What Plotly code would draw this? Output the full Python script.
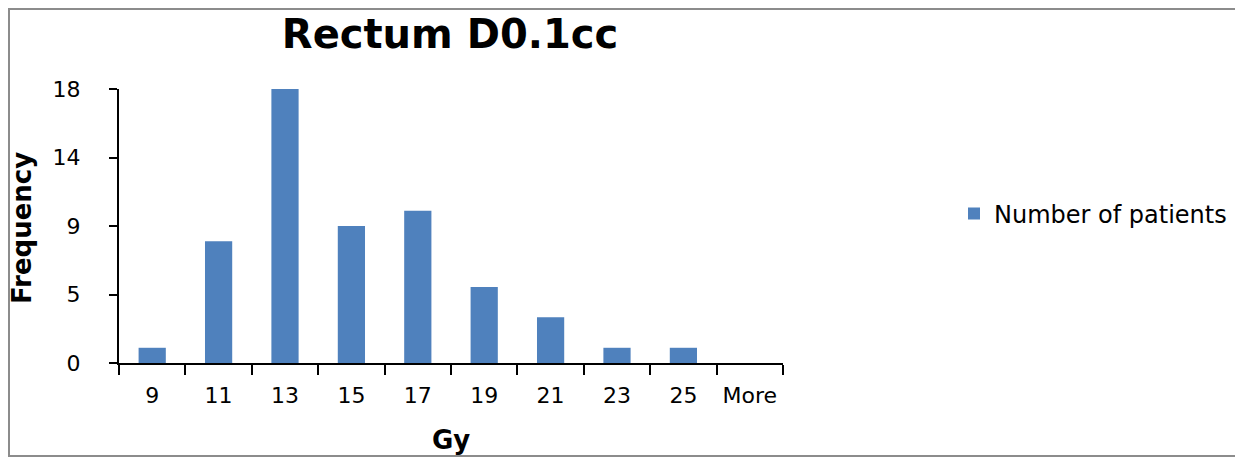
import plotly.graph_objects as go

categories = ["9", "11", "13", "15", "17", "19", "21", "23", "25", "More"]
patients = [1, 8, 18, 9, 10, 5, 3, 1, 1, 0]
ytick_vals = [0, 4.5, 9, 13.5, 18]
ytick_text = ["0", "5", "9", "14", "18"]

# the page body has an 8px margin; figure coordinates = page coordinates - 8
O = 8
W, H = 1243 - O, 457 - O
L, T = 119 - O, 89 - O
pw, ph = 664, 274
R, B = W - L - pw, H - T - ph

def px(x):
    return (x - O - L) / pw

def py(y):
    return (T + ph - (y - O)) / ph

FONT = "DejaVu Sans"

fig = go.Figure()
fig.add_trace(go.Bar(
    x=categories, y=patients, name="Number of patients",
    marker=dict(color="#4F81BD", line=dict(width=0)),
))

fig.update_layout(
    width=W, height=H,
    margin=dict(l=L, r=R, t=T, b=B, autoexpand=False),
    paper_bgcolor="white", plot_bgcolor="white",
    font=dict(family=FONT, color="black", size=22),
    bargap=0.59,
    title=dict(text="<b>Rectum D0.1cc</b>", font=dict(size=40, family=FONT, color="black"),
               x=px(450), xref="paper", xanchor="center",
               y=1 - (34 - O) / H, yref="container", yanchor="middle"),
    xaxis=dict(
        type="category", range=[-0.5, 9.5],
        showline=True, linecolor="black", linewidth=2,
        ticks="outside", tickson="boundaries", ticklen=10, tickwidth=2, tickcolor="black",
        showgrid=False, zeroline=False,
        tickfont=dict(size=22, family=FONT),
        ticklabelstandoff=12,
    ),
    yaxis=dict(
        range=[0, 18], tickvals=ytick_vals, ticktext=ytick_text,
        showline=True, linecolor="black", linewidth=2,
        ticks="outside", ticklen=8, tickwidth=2, tickcolor="black",
        showgrid=False, zeroline=False,
        tickfont=dict(size=22, family=FONT),
        ticklabelstandoff=24,
    ),
    showlegend=True,
    legend=dict(x=px(954), y=py(214), xanchor="left", yanchor="middle",
                font=dict(size=24, family=FONT), bgcolor="rgba(0,0,0,0)"),
    annotations=[
        dict(text="<b>Frequency</b>", xref="paper", yref="paper", x=px(22), y=py(228),
             textangle=-90, showarrow=False, xanchor="center", yanchor="middle",
             font=dict(size=26, family=FONT)),
        dict(text="<b>Gy</b>", xref="paper", yref="paper", x=px(451), y=py(440),
             showarrow=False, xanchor="center", yanchor="middle",
             font=dict(size=26, family=FONT)),
    ],
    shapes=[dict(type="rect", xref="paper", yref="paper",
                 x0=px(O + 1), x1=px(1241), y0=py(456), y1=py(O + 1),
                 line=dict(color="#8c8c8c", width=2), fillcolor="rgba(0,0,0,0)", layer="below")],
)

fig.write_html("out.html")
